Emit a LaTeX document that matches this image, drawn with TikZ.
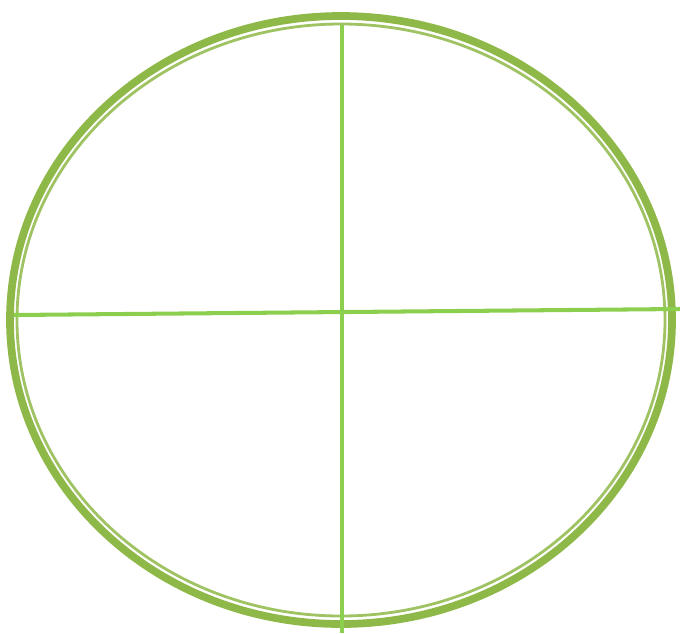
\documentclass[tikz,border=0pt]{standalone}
\definecolor{rimgreen}{RGB}{142,184,72}
\definecolor{crossgreen}{RGB}{140,206,78}
\begin{document}
\begin{tikzpicture}[x=0.02cm,y=-0.02cm]
    \useasboundingbox (0,0) rectangle (680,633);
    % outer rim, white gap and inner ring
    \draw[line width=4.4pt, draw=rimgreen] (341,320) ellipse (331 and 304);
    \draw[line width=1.6pt, draw=rimgreen!85] (341,320) ellipse (324 and 296);
    % cross
    \coordinate (top) at (342,25);
    \coordinate (bottom) at (342,633);
    \coordinate (left) at (14,315);
    \coordinate (right) at (680,309);
    \draw[line width=2.3pt, draw=crossgreen] (top) -- (bottom);
    \draw[line width=2.3pt, draw=crossgreen] (left) -- (right);
  \end{tikzpicture}
\end{document}
